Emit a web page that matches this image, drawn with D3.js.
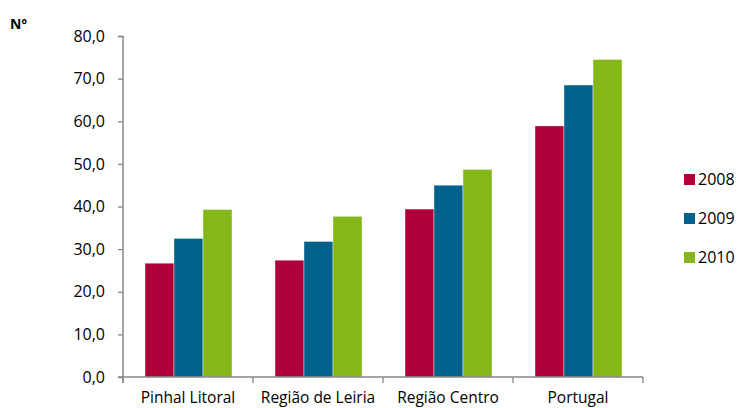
<!DOCTYPE html>
<html><head><meta charset="utf-8">
<script src="https://cdn.jsdelivr.net/npm/d3@7"></script>
<style>body{margin:0;background:#fff}svg{display:block}text{font-family:"Open Sans","Noto Sans",sans-serif}</style>
</head><body><svg id="c" width="739" height="408"></svg>
<script>
const categories = ["Pinhal Litoral","Região de Leiria","Região Centro","Portugal"];
const seriesNames = ["2008","2009","2010"];
const v2008 = [26.7, 27.4, 39.4, 58.9];
const v2009 = [32.5, 31.8, 45.0, 68.5];
const v2010 = [39.3, 37.7, 48.7, 74.5];
const yTicks = [0,10,20,30,40,50,60,70,80];
const colors = ["#B0003A","#00628B","#84B819"];
const series = [v2008, v2009, v2010];

const svg = d3.select("#c");
const x0 = d3.scaleBand().domain(categories).range([123,643]).paddingInner(0).paddingOuter(0);
const x1 = d3.scaleBand().domain(seriesNames).range([22, 130-21]);
const y = d3.scaleLinear().domain([0,80]).range([377,36]);
const fmt = d => d.toFixed(1).replace(".", ",");

// bars
const g = svg.append("g");
categories.forEach((c,i)=>{
  seriesNames.forEach((s,j)=>{
    g.append("rect")
      .attr("x", x0(c)+x1(s))
      .attr("y", y(series[j][i]))
      .attr("width", x1.bandwidth())
      .attr("height", y(0)-y(series[j][i]))
      .attr("fill", colors[j])
      .attr("stroke","rgba(255,255,255,0.5)").attr("stroke-width",0.8);
  });
});

// y axis
const ya = svg.append("g").attr("transform","translate(123,0)")
  .call(d3.axisLeft(y).tickValues(yTicks).tickFormat(fmt).tickSize(5).tickPadding(13));
ya.select(".domain").attr("stroke","#868686").attr("stroke-width",1.5).attr("d","M-5,36.5H0V383");
ya.selectAll(".tick line").attr("stroke","#868686").attr("stroke-width",1.3);
ya.selectAll(".tick text").attr("font-size",16).attr("fill","#000");

// x axis
const xa = svg.append("g").attr("transform","translate(0,377)");
xa.append("line").attr("x1",118).attr("x2",643).attr("y1",0).attr("y2",0).attr("stroke","#868686").attr("stroke-width",1.5);
const bounds = categories.map(c=>x0(c)).concat([x0(categories[categories.length-1])+x0.bandwidth()]);
xa.selectAll("line.t").data(bounds).join("line").attr("class","t")
  .attr("x1",d=>d).attr("x2",d=>d).attr("y1",0).attr("y2",6).attr("stroke","#868686").attr("stroke-width",1.3);
xa.selectAll("text").data(categories).join("text")
  .attr("x",d=>x0(d)+x0.bandwidth()/2).attr("y",26).attr("text-anchor","middle")
  .attr("font-size",15.5).attr("fill","#000").text(d=>d);

// Nº label
svg.append("text").attr("x",10).attr("y",29).attr("font-size",14).attr("font-weight","bold").text("Nº");

// legend
const lg = svg.append("g");
seriesNames.forEach((s,j)=>{
  const yy = 174 + j*39;
  lg.append("rect").attr("x",684).attr("y",yy).attr("width",11).attr("height",11).attr("fill",colors[j]);
  lg.append("text").attr("x",698).attr("y",yy+11).attr("font-size",16).attr("fill","#000").text(s);
});
</script></body></html>
